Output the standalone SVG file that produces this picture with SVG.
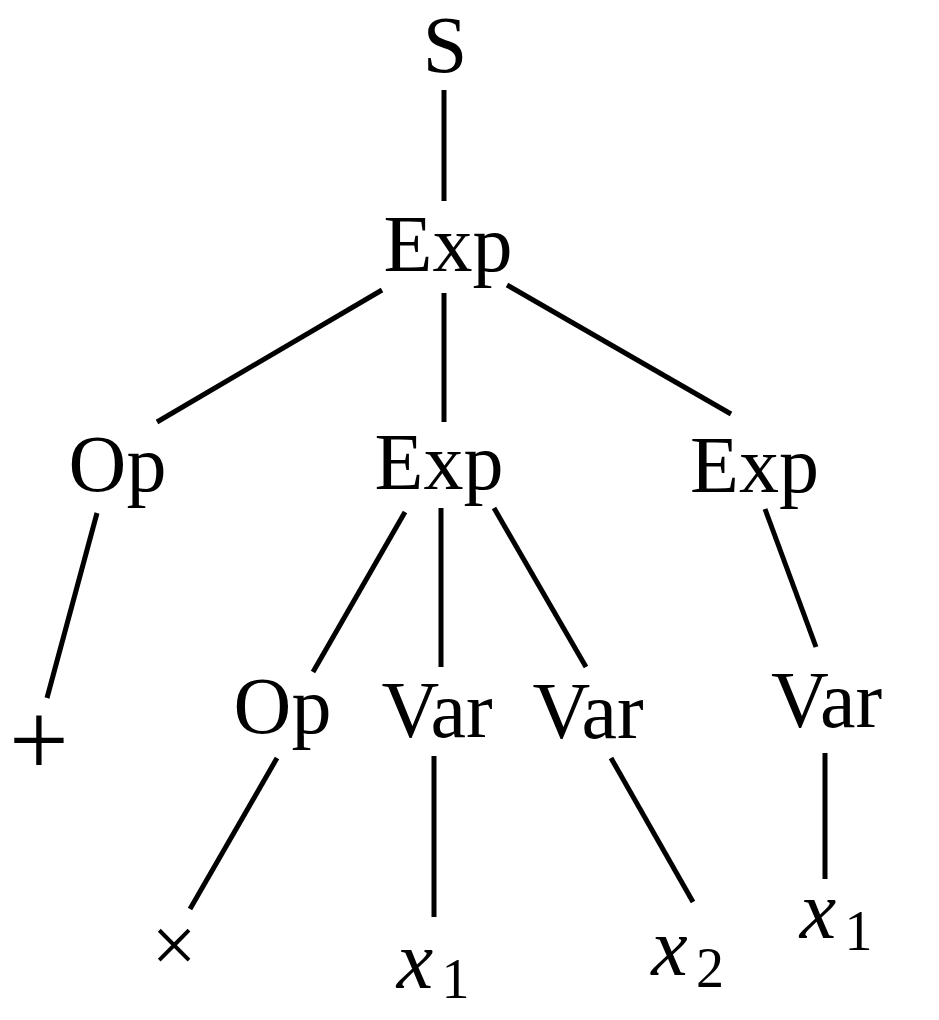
<svg xmlns="http://www.w3.org/2000/svg" width="939" height="1020" viewBox="0 0 939 1020">
<style>
.lbl{font-family:"Liberation Serif","Times New Roman",serif;font-size:80px;fill:#000;text-anchor:middle}
.mx{font-family:"Liberation Serif","Times New Roman",serif;font-style:italic;font-size:82px;fill:#000;text-anchor:middle}
.sub{font-family:"Liberation Serif","Times New Roman",serif;font-size:56px;fill:#000;text-anchor:middle}
.sym{font-family:"Liberation Serif","Times New Roman",serif;font-size:106px;fill:#000;text-anchor:middle}
#edges line{stroke:#000;stroke-width:5;stroke-linecap:butt}
</style>
<rect width="939" height="1020" fill="#fff"/>
<g id="edges">
<line x1="444" y1="90" x2="444" y2="201"/>
<line x1="382" y1="290" x2="157" y2="422"/>
<line x1="444" y1="293" x2="444" y2="422"/>
<line x1="507" y1="285" x2="731" y2="414"/>
<line x1="97" y1="513" x2="47" y2="698"/>
<line x1="405" y1="512" x2="313" y2="672"/>
<line x1="441" y1="508" x2="441" y2="667"/>
<line x1="494" y1="508" x2="586" y2="667"/>
<line x1="765" y1="509" x2="816" y2="647"/>
<line x1="277" y1="758" x2="190" y2="909"/>
<line x1="434" y1="756" x2="434" y2="917"/>
<line x1="611" y1="758" x2="693" y2="902"/>
<line x1="825" y1="753" x2="825" y2="879"/>
</g>
<g id="n-S"><text class="lbl" x="445" y="72">S</text></g>
<g id="n-Exp1"><text class="lbl" x="448" y="271">Exp</text></g>
<g id="n-Op1"><text class="lbl" x="117.5" y="491">Op</text></g>
<g id="n-Exp2"><text class="lbl" x="439" y="489">Exp</text></g>
<g id="n-Exp3"><text class="lbl" x="754.5" y="492">Exp</text></g>
<g id="n-plus"><text class="sym" x="39" y="776">+</text></g>
<g id="n-Op2"><text class="lbl" x="282.5" y="733">Op</text></g>
<g id="n-Var1"><text class="lbl" x="437" y="737">Var</text></g>
<g id="n-Var2"><text class="lbl" x="588" y="738">Var</text></g>
<g id="n-Var3"><text class="lbl" x="826.5" y="727">Var</text></g>
<g id="n-times"><text class="lbl" x="174" y="972">×</text></g>
<g id="n-x1a"><text><tspan class="mx" x="415" y="988">x</tspan><tspan class="sub" x="455.5" y="998">1</tspan></text></g>
<g id="n-x2"><text><tspan class="mx" x="669.5" y="975">x</tspan><tspan class="sub" x="710" y="987">2</tspan></text></g>
<g id="n-x1b"><text><tspan class="mx" x="818" y="938">x</tspan><tspan class="sub" x="858.5" y="950">1</tspan></text></g>
</svg>
